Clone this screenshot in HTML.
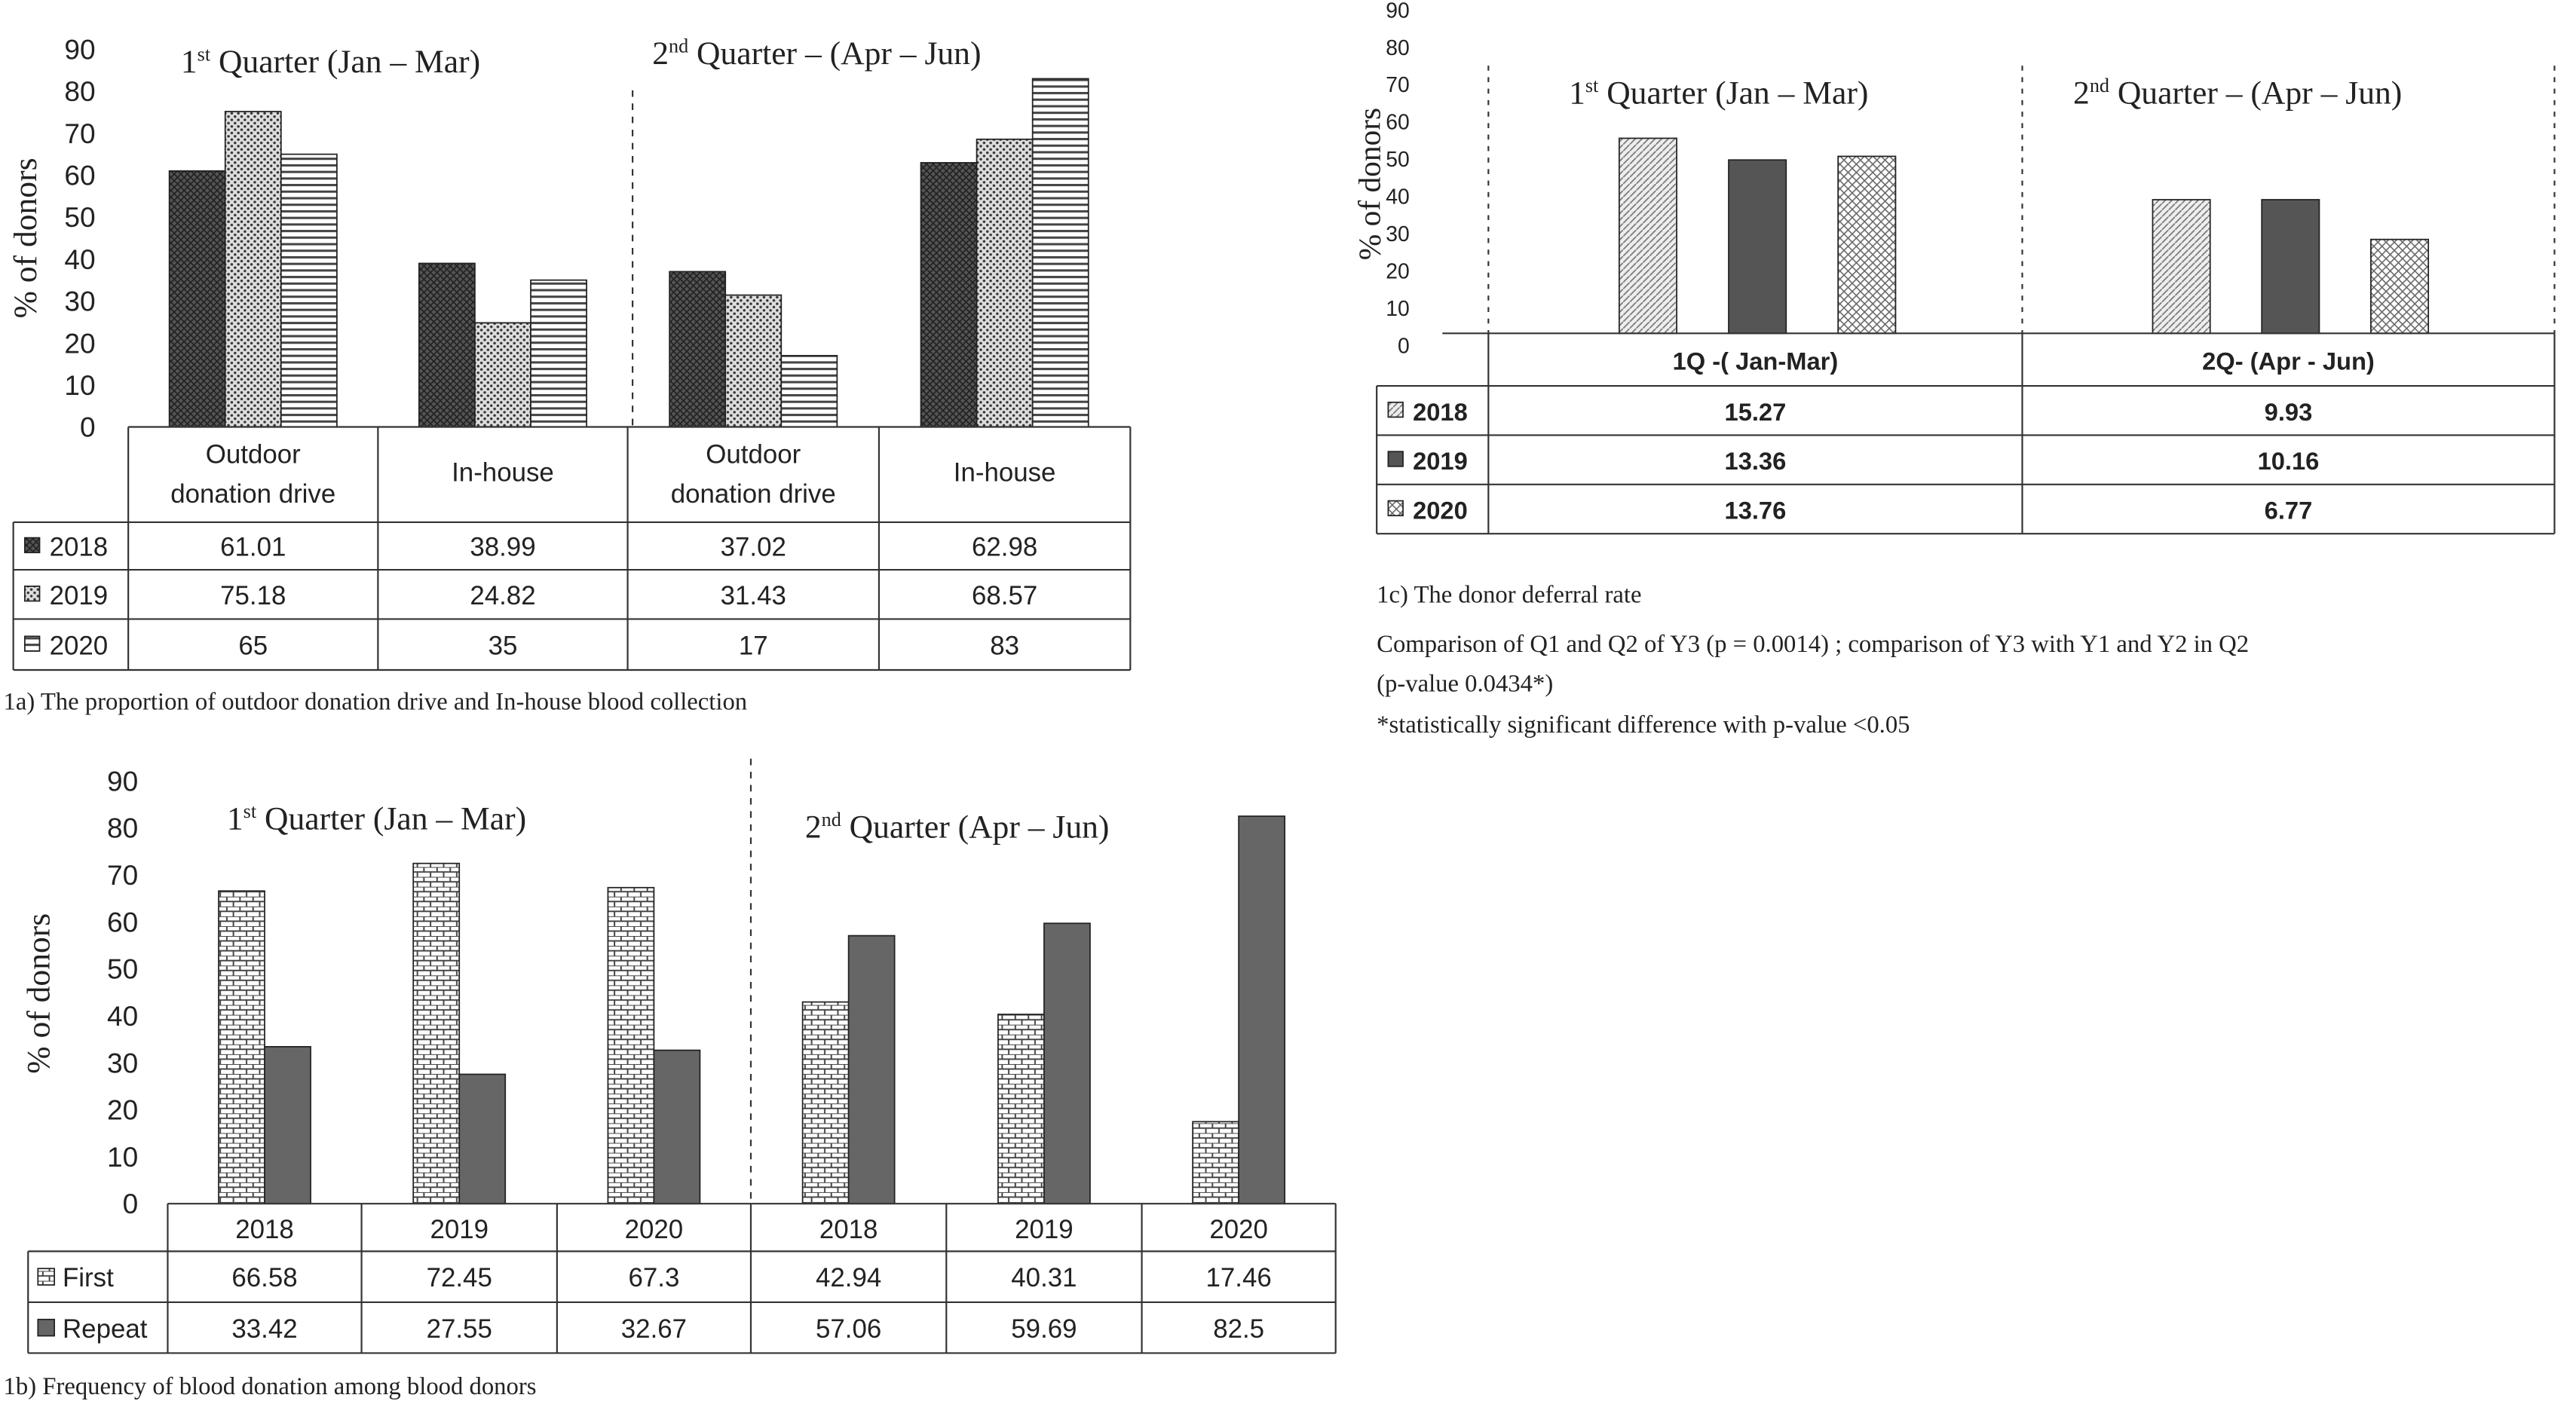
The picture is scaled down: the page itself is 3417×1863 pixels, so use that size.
<!DOCTYPE html>
<html><head><meta charset="utf-8"><style>
html,body{margin:0;padding:0;background:#fff}
svg{display:block}
text{font-family:"Liberation Sans",sans-serif;fill:#222}
.serif{font-family:"Liberation Serif",serif}
</style></head><body>
<svg id="s" width="3417" height="1863" viewBox="0 0 1568 855" xmlns="http://www.w3.org/2000/svg">
<defs>
<pattern id="pA18" width="4" height="4" patternUnits="userSpaceOnUse"><rect width="4" height="4" fill="#555"/><path d="M0 0L4 4M4 0L0 4" stroke="#222" stroke-width="0.8"/></pattern>
<pattern id="pA19" width="4" height="4" patternUnits="userSpaceOnUse"><rect width="4" height="4" fill="#ddd"/><circle cx="1" cy="1" r="0.8" fill="#333"/><circle cx="3" cy="3" r="0.8" fill="#333"/></pattern>
<pattern id="pA20" width="4" height="4" patternUnits="userSpaceOnUse"><rect width="4" height="4" fill="#fff"/><rect y="0" width="4" height="1.4" fill="#444"/></pattern>
<pattern id="pC18" width="4" height="4" patternUnits="userSpaceOnUse"><rect width="4" height="4" fill="#eee"/><path d="M0 4L4 0" stroke="#777" stroke-width="0.8"/></pattern>
<pattern id="pC20" width="5" height="5" patternUnits="userSpaceOnUse"><rect width="5" height="5" fill="#fff"/><path d="M0 0L5 5M5 0L0 5" stroke="#666" stroke-width="0.7"/></pattern>
<pattern id="pB1" width="8" height="6" patternUnits="userSpaceOnUse"><rect width="8" height="6" fill="#fff"/><path d="M0 0H8M0 3H8M2 0V3M6 3V6" stroke="#444" stroke-width="0.9"/></pattern>
</defs>
<g id="gA"></g>
<g id="gC"></g>
<g id="gB"></g>
</svg>
<script>
const NS="http://www.w3.org/2000/svg";
// Chart 1a data
const aCategories=["Outdoor|donation drive","In-house","Outdoor|donation drive","In-house"];
const aSeriesNames=["2018","2019","2020"];
const a2018=[61.01,38.99,37.02,62.98];
const a2019=[75.18,24.82,31.43,68.57];
const a2020=[65,35,17,83];
const aTicks=[0,10,20,30,40,50,60,70,80,90];
// Chart 1c data
const cCategories=["1Q -( Jan-Mar)","2Q- (Apr - Jun)"];
const cBar2018=[54,37];
const cBar2019=[48,37];
const cBar2020=[49,26];
const cTable2018=["15.27","9.93"];
const cTable2019=["13.36","10.16"];
const cTable2020=["13.76","6.77"];
const cTicks=[0,10,20,30,40,50,60,70,80,90];
// Chart 1b data
const bCategories=["2018","2019","2020","2018","2019","2020"];
const bFirst=[66.58,72.45,67.3,42.94,40.31,17.46];
const bRepeat=[33.42,27.55,32.67,57.06,59.69,82.5];
const bTicks=[0,10,20,30,40,50,60,70,80,90];

function el(p,tag,at,name,txt){const e=document.createElementNS(NS,tag);for(const k in at)e.setAttribute(k,at[k]);


if(txt!==undefined)e.textContent=txt;p.appendChild(e);return e;}
function line(p,x1,y1,x2,y2,name,dash,w){return el(p,'line',{x1,y1,x2,y2,stroke:'#333','stroke-width':w||1,'stroke-dasharray':dash||'none'},name);}
function txt(p,x,y,s,size,name,anchor,extra){return el(p,'text',Object.assign({x,y,'font-size':size,'text-anchor':anchor||'middle'},extra||{}),name,s);}
function rect(p,x,y,w,h,fill,name){return el(p,'rect',{x,y,width:w,height:h,fill,stroke:'#222','stroke-width':0.8},name);}
function sup(p,x,y,pre,s,post,size,name){const t=el(p,'text',{x,y,'font-size':size,'class':'serif','text-anchor':'start'},name);
 const a=document.createElementNS(NS,'tspan');a.textContent=pre;t.appendChild(a);
 const b=document.createElementNS(NS,'tspan');b.setAttribute('dy',-7);b.setAttribute('font-size',size*0.6);b.textContent=s;t.appendChild(b);
 const c=document.createElementNS(NS,'tspan');c.setAttribute('dy',7);c.textContent=post;t.appendChild(c);}

// ---------- Chart 1a ----------
(function(){
const g=document.getElementById('gA');
const y0=260,ppu=2.555;const Y=v=>y0-v*ppu;
aTicks.forEach(t=>txt(g,58,Y(t)+6,String(t),17,'y-tick-label','end'));
txt(g,0,0,'% of donors',20,'y-axis-title','middle',{transform:'translate(22,145) rotate(-90)','class':'serif'});
const cols=[78,230,382,535,688];
const series=[a2018,a2019,a2020];const fills=['url(#pA18)','url(#pA19)','url(#pA20)'];
aCategories.forEach((c,i)=>{const cx=(cols[i]+cols[i+1])/2;const bw=34;
 series.forEach((s,j)=>{const x=cx-bw*1.5+j*bw;rect(g,x,Y(s[i]),bw,s[i]*ppu,fills[j],'bar-'+aSeriesNames[j]+'-'+i);});});
line(g,385,55,385,y0,'quarter-divider','4,4');
sup(g,110,44,'1','st',' Quarter (Jan – Mar)',20,'q1-title');
sup(g,397,39,'2','nd',' Quarter – (Apr – Jun)',20,'q2-title');
const rows=[260,318,347,377,408];
line(g,78,260,688,260,'table-line');
for(let r=1;r<rows.length;r++)line(g,8,rows[r],688,rows[r],'table-line');
line(g,8,318,8,408,'table-line');cols.forEach(x=>line(g,x,260,x,408,'table-line'));
aCategories.forEach((c,i)=>{const cx=(cols[i]+cols[i+1])/2;const parts=c.split('|');
 if(parts.length>1){txt(g,cx,282,parts[0],16,'category-label');txt(g,cx,306,parts[1],16,'category-label');}
 else txt(g,cx,293,parts[0],16,'category-label');});
const names=aSeriesNames;
series.forEach((s,j)=>{const yc=(rows[j+1]+rows[j+2])/2+6;
 rect(g,15,yc-11,9,9,fills[j],'legend-key-'+names[j]);
 txt(g,30,yc,names[j],16,'legend-label','start');
 s.forEach((v,i)=>txt(g,(cols[i]+cols[i+1])/2,yc,String(v),16,'table-value'));});
txt(g,2,432,'1a) The proportion of outdoor donation drive and In-house blood collection',15,'caption-1a','start',{'class':'serif'});
})();

// ---------- Chart 1c ----------
(function(){
const g=document.getElementById('gC');
const y0=203,ppu=2.2;const Y=v=>y0-v*ppu;
cTicks.forEach(t=>txt(g,858,210-t*2.27+5,String(t),13,'y-tick-label','end'));
txt(g,0,0,'% of donors',19,'y-axis-title','middle',{transform:'translate(840,112) rotate(-90)','class':'serif'});
const cols=[906,1231,1555];
const bars=[cBar2018,cBar2019,cBar2020];const fills=['url(#pC18)','#555','url(#pC20)'];
cCategories.forEach((c,i)=>{const w=cols[i+1]-cols[i];
 bars.forEach((s,j)=>{const x=cols[i]+w*(0.245+j*0.205);rect(g,x,Y(s[i]),35,s[i]*ppu,fills[j],'bar-'+(2018+j)+'-'+i);});});
line(g,906,40,906,203,'divider','3,4');line(g,1231,40,1231,203,'quarter-divider','3,4');line(g,1555,40,1555,203,'divider','3,4');
sup(g,955,63,'1','st',' Quarter (Jan – Mar)',20,'q1-title');
sup(g,1262,63,'2','nd',' Quarter – (Apr – Jun)',20,'q2-title');
const rows=[203,235,265,295,325];
line(g,878,203,1555,203,'table-line');
for(let r=1;r<rows.length;r++)line(g,838,rows[r],1555,rows[r],'table-line');
line(g,838,235,838,325,'table-line');cols.forEach(x=>line(g,x,203,x,325,'table-line'));
cCategories.forEach((c,i)=>txt(g,(cols[i]+cols[i+1])/2,225,c,15,'category-label','middle',{'font-weight':'bold'}));
const tv=[cTable2018,cTable2019,cTable2020];
tv.forEach((s,j)=>{const yc=(rows[j+1]+rows[j+2])/2+6;
 rect(g,845,yc-11,9,9,fills[j],'legend-key-'+(2018+j));
 txt(g,860,yc,String(2018+j),15,'legend-label','start',{'font-weight':'bold'});
 s.forEach((v,i)=>txt(g,(cols[i]+cols[i+1])/2,yc,v,15,'table-value','middle',{'font-weight':'bold'}));});
txt(g,838,367,'1c) The donor deferral rate',15,'caption-1c','start',{'class':'serif'});
txt(g,838,397,'Comparison of Q1 and Q2 of Y3 (p = 0.0014) ; comparison of Y3 with Y1 and Y2 in Q2',15,'note-line-1','start',{'class':'serif'});
txt(g,838,421,'(p-value 0.0434*)',15,'note-line-2','start',{'class':'serif'});
txt(g,838,446,'*statistically significant difference with p-value <0.05',15,'note-line-3','start',{'class':'serif'});
})();

// ---------- Chart 1b ----------
(function(){
const g=document.getElementById('gB');
const y0=733,ppu=2.86;const Y=v=>y0-v*ppu;
bTicks.forEach(t=>txt(g,84,Y(t)+6,String(t),17,'y-tick-label','end'));
txt(g,0,0,'% of donors',20,'y-axis-title','middle',{transform:'translate(30,605) rotate(-90)','class':'serif'});
const cols=[102,220,339,457,576,695,813];
bCategories.forEach((c,i)=>{const cx=(cols[i]+cols[i+1])/2;const bw=28;
 rect(g,cx-bw,Y(bFirst[i]),bw,bFirst[i]*ppu,'url(#pB1)','bar-first-'+i);
 rect(g,cx,Y(bRepeat[i]),bw,bRepeat[i]*ppu,'#666','bar-repeat-'+i);});
line(g,457,462,457,733,'quarter-divider','4,4');
sup(g,138,505,'1','st',' Quarter (Jan – Mar)',20,'q1-title');
sup(g,490,510,'2','nd',' Quarter (Apr – Jun)',20,'q2-title');
const rows=[733,762,793,824];
line(g,102,733,813,733,'table-line');
for(let r=1;r<rows.length;r++)line(g,17,rows[r],813,rows[r],'table-line');
line(g,17,762,17,824,'table-line');cols.forEach(x=>line(g,x,733,x,824,'table-line'));
bCategories.forEach((c,i)=>txt(g,(cols[i]+cols[i+1])/2,754,c,16,'category-label'));
const ser=[bFirst,bRepeat],nm=['First','Repeat'],fl=['url(#pB1)','#666'];
ser.forEach((s,j)=>{const yc=(rows[j+1]+rows[j+2])/2+6;
 rect(g,23,yc-11,10,10,fl[j],'legend-key-'+nm[j].toLowerCase());
 txt(g,38,yc,nm[j],16,'legend-label','start');
 s.forEach((v,i)=>txt(g,(cols[i]+cols[i+1])/2,yc,String(v),16,'table-value'));});
txt(g,2,849,'1b) Frequency of blood donation among blood donors',15,'caption-1b','start',{'class':'serif'});
})();
</script>
</body></html>
